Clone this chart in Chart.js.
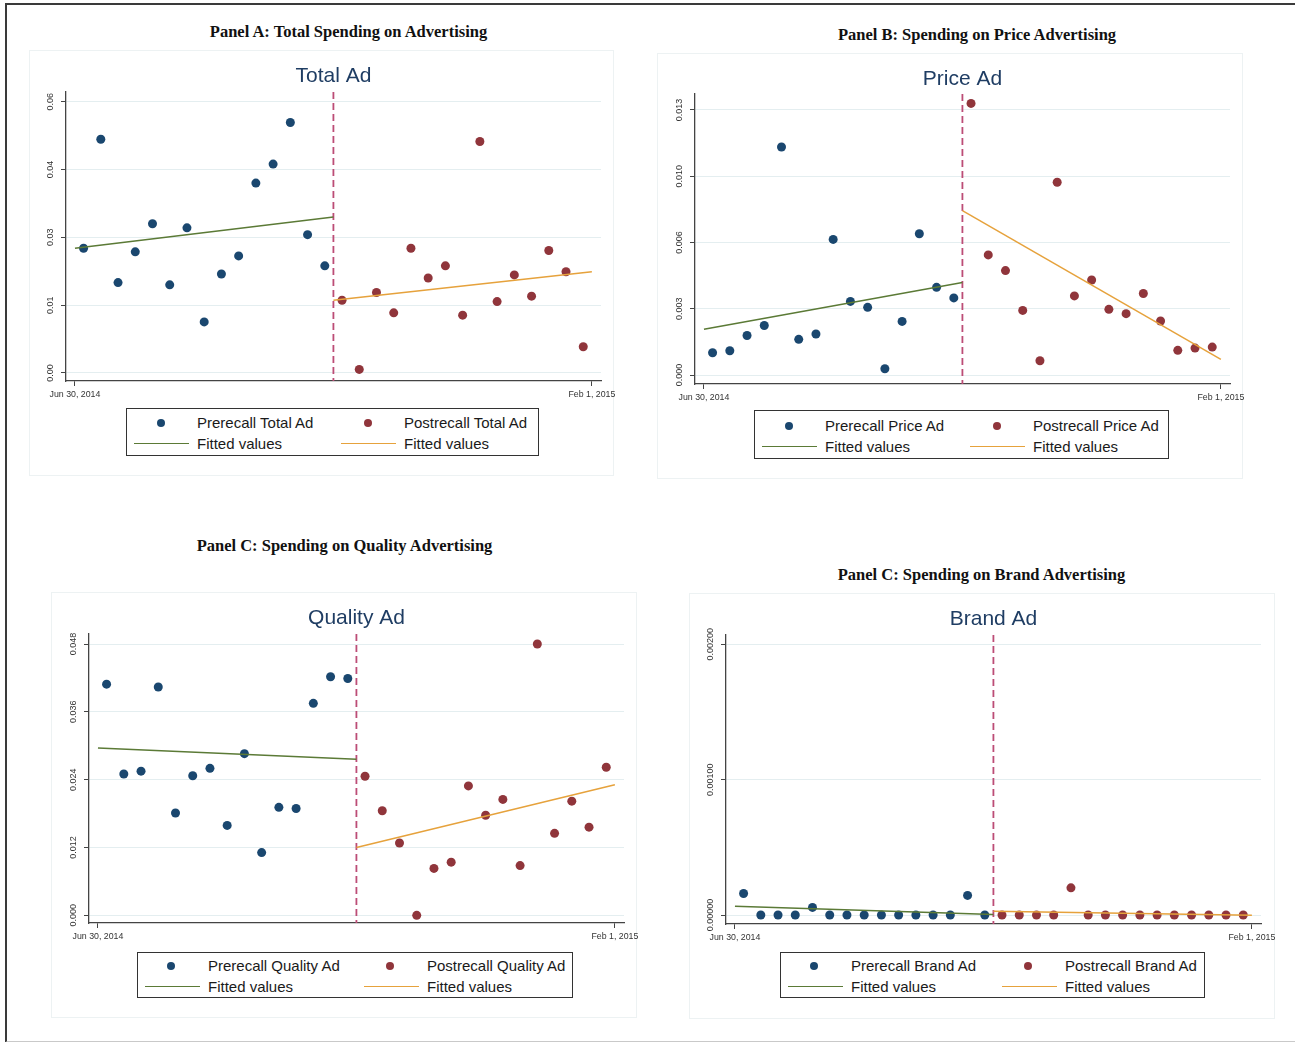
<!DOCTYPE html>
<html>
<head>
<meta charset="utf-8">
<title>Recall and advertising spending</title>
<script src="https://cdn.jsdelivr.net/npm/chart.js@4.4.1/dist/chart.umd.min.js"></script>
<style>
  html, body { margin: 0; padding: 0; background: #fff; overflow: hidden; }
  #page { position: relative; width: 1295px; height: 1042px; font-family: "Liberation Sans", Arial, sans-serif; }
  #frame { position: absolute; left: 5px; top: 3px; width: 1310px; height: 1036px;
           border-left: 2px solid #3a3a3a; border-top: 2px solid #3a3a3a; border-bottom: 2px solid #c9c9c9; }
  .ptitle { position: absolute; transform: translate(-50%, -50%); white-space: nowrap;
            font: bold 16.5px "Liberation Serif", "Times New Roman", serif; color: #111; }
  .box { position: absolute; box-sizing: border-box; border: 1px solid #edf2f3; }
  .box canvas { position: absolute; left: 0; top: 0; }
  .legend { position: absolute; box-sizing: border-box; border: 1px solid #333; background: #fff; }
  .item { position: absolute; height: 21px; line-height: 21px; white-space: nowrap; font-size: 15px; color: #1a1a1a; }
  .item .dot { position: absolute; top: 7px; width: 8px; height: 8px; border-radius: 50%; }
  .item .ln { position: absolute; top: 10px; height: 1.5px; }
  .item .txt { position: absolute; left: 70px; top: 0; }
</style>
</head>
<body>
<div id="page"><div id="frame"></div></div>
<script>
// weeks around the recall; the cutoff sits between week 15 and 16
const weeksPre = [1, 2, 3, 4, 5, 6, 7, 8, 9, 10, 11, 12, 13, 14, 15];
const weeksPost = [16, 17, 18, 19, 20, 21, 22, 23, 24, 25, 26, 27, 28, 29, 30];
const cutoffWeek = 15.5;
const xTickVals = [0.5, 30.5];
const xTickLabels = ['Jun 30, 2014', 'Feb 1, 2015'];

// Panel A: total ad
const totalPre = [0.0276, 0.0517, 0.0200, 0.0268, 0.0330, 0.0195, 0.0321, 0.0113, 0.0219, 0.0259, 0.0420, 0.0462, 0.0554, 0.0306, 0.0237];
const totalPost = [0.0161, 0.0008, 0.0178, 0.0133, 0.0276, 0.0210, 0.0237, 0.0128, 0.0512, 0.0158, 0.0217, 0.0170, 0.0271, 0.0224, 0.0058];
const totalFitPre = [0.0276, 0.0345];
const totalFitPost = [0.0161, 0.0224];
const totalTicks = [0, 0.015, 0.03, 0.045, 0.06];
const totalTickLabels = ['0.00', '0.01', '0.03', '0.04', '0.06'];

// Panel B: price ad
const pricePre = [0.00109, 0.00119, 0.00194, 0.00243, 0.01118, 0.00175, 0.00201, 0.00665, 0.00361, 0.00332, 0.00031, 0.00263, 0.00693, 0.00430, 0.00378];
const pricePost = [0.01332, 0.00589, 0.00512, 0.00317, 0.00070, 0.00945, 0.00388, 0.00466, 0.00322, 0.00301, 0.00400, 0.00265, 0.00121, 0.00132, 0.00137];
const priceFitPre = [0.00224, 0.00454];
const priceFitPost = [0.00806, 0.00077];
const priceTicks = [0, 0.00325, 0.0065, 0.00975, 0.013];
const priceTickLabels = ['0.000', '0.003', '0.006', '0.010', '0.013'];

// Panel C: quality ad
const qualityPre = [0.0409, 0.0250, 0.0255, 0.0404, 0.0181, 0.0247, 0.0260, 0.0159, 0.0286, 0.0111, 0.0191, 0.0189, 0.0375, 0.0422, 0.0419];
const qualityPost = [0.0246, 0.0185, 0.0128, 0.0000, 0.0083, 0.0094, 0.0229, 0.0177, 0.0205, 0.0088, 0.0480, 0.0145, 0.0202, 0.0156, 0.0262];
const qualityFitPre = [0.0296, 0.0276];
const qualityFitPost = [0.0120, 0.0231];
const qualityTicks = [0, 0.012, 0.024, 0.036, 0.048];
const qualityTickLabels = ['0.000', '0.012', '0.024', '0.036', '0.048'];

// Panel D: brand ad
const brandPre = [0.000159, 0, 0, 0, 0.000056, 0, 0, 0, 0, 0, 0, 0, 0, 0.000145, 0];
const brandPost = [0, 0, 0, 0, 0.000201, 0, 0, 0, 0, 0, 0, 0, 0, 0, 0];
const brandFitPre = [0.000064, 0.000003];
const brandFitPost = [0.000027, -0.000002];
const brandTicks = [0, 0.001, 0.002];
const brandTickLabels = ['0.00000', '0.00100', '0.00200'];

const NAVY = '#1a476f';
const MAROON = '#90353b';
const GREEN = '#5b7a36';
const ORANGE = '#e6a23c';

const panels = [
  { head: 'Panel A: Total Spending on Advertising', hx: 348.5, hy: 32, name: 'Total Ad',
    pre: totalPre, post: totalPost, fitPre: totalFitPre, fitPost: totalFitPost,
    ticks: totalTicks, tickLabels: totalTickLabels, yMin: -0.00177, yMax: 0.06215,
    box: [29, 50, 585, 426], inset: [36, 41, 14, 330], legend: [126, 408, 413, 48, 207, 14] },
  { head: 'Panel B: Spending on Price Advertising', hx: 977, hy: 35, name: 'Price Ad',
    pre: pricePre, post: pricePost, fitPre: priceFitPre, fitPost: priceFitPost,
    ticks: priceTicks, tickLabels: priceTickLabels, yMin: -0.00044, yMax: 0.01378,
    box: [657, 53, 586, 426], inset: [37, 40, 14, 330], legend: [754, 410, 415, 49, 208, 15] },
  { head: 'Panel C: Spending on Quality Advertising', hx: 344.5, hy: 546, name: 'Quality Ad',
    pre: qualityPre, post: qualityPost, fitPre: qualityFitPre, fitPost: qualityFitPost,
    ticks: qualityTicks, tickLabels: qualityTickLabels, yMin: -0.00136, yMax: 0.04977,
    box: [51, 592, 586, 426], inset: [37, 41, 14, 330], legend: [137, 952, 436, 46, 219, 13] },
  { head: 'Panel C: Spending on Brand Advertising', hx: 981.5, hy: 575, name: 'Brand Ad',
    pre: brandPre, post: brandPost, fitPre: brandFitPre, fitPost: brandFitPost,
    ticks: brandTicks, tickLabels: brandTickLabels, yMin: -0.0000664, yMax: 0.002069,
    box: [689, 593, 586, 426], inset: [36, 41, 15, 330], legend: [780, 952, 425, 46, 214, 13] }
];

// dashed recall line + rotated y labels (Stata style)
const panelExtras = {
  id: 'panelExtras',
  beforeDatasetsDraw(chart, args, opts) {
    const {ctx, chartArea, scales: {x}} = chart;
    const px = x.getPixelForValue(opts.cutoff);
    ctx.save();
    ctx.strokeStyle = '#bc4d76';
    ctx.lineWidth = 1.8;
    ctx.setLineDash([7, 4]);
    ctx.beginPath();
    ctx.moveTo(px, chartArea.top);
    ctx.lineTo(px, chartArea.bottom);
    ctx.stroke();
    ctx.restore();
  },
  afterDraw(chart, args, opts) {
    const {ctx, chartArea, scales: {y}} = chart;
    ctx.save();
    ctx.font = '9px "Liberation Sans", Arial, sans-serif';
    ctx.fillStyle = '#333';
    ctx.textAlign = 'center';
    ctx.textBaseline = 'middle';
    opts.tickVals.forEach((v, i) => {
      ctx.save();
      ctx.translate(chartArea.left - 15, y.getPixelForValue(v));
      ctx.rotate(-Math.PI / 2);
      ctx.fillText(opts.tickLabels[i], 0, 0);
      ctx.restore();
    });
    ctx.restore();
  }
};

const page = document.getElementById('page');

panels.forEach(p => {
  const head = document.createElement('DIV');
  head.className = 'ptitle';
  head.style.left = p.hx + 'px';
  head.style.top = p.hy + 'px';
  head.textContent = p.head;
  page.appendChild(head);

  const [bl, bt, bw, bh] = p.box;
  const [insL, insT, insR, insB] = p.inset;
  const box = document.createElement('DIV');
  box.className = 'box';
  Object.assign(box.style, {left: bl + 'px', top: bt + 'px', width: bw + 'px', height: bh + 'px'});
  const canvas = box.appendChild(document.createElement('CANVAS'));
  canvas.width = bw;
  canvas.height = bh;
  page.appendChild(box);

  const pts = (xs, ys) => xs.map((w, i) => ({x: w, y: ys[i]}));

  new Chart(canvas, {
    type: 'scatter',
    data: {
      datasets: [
        { label: 'Fitted values', data: [{x: xTickVals[0], y: p.fitPre[0]}, {x: cutoffWeek, y: p.fitPre[1]}],
          showLine: true, borderColor: GREEN, borderWidth: 1.5, pointRadius: 0, fill: false },
        { label: 'Fitted values', data: [{x: cutoffWeek, y: p.fitPost[0]}, {x: xTickVals[1], y: p.fitPost[1]}],
          showLine: true, borderColor: ORANGE, borderWidth: 1.5, pointRadius: 0, fill: false },
        { label: 'Prerecall ' + p.name, data: pts(weeksPre, p.pre),
          pointRadius: 4.5, pointBackgroundColor: NAVY, pointBorderWidth: 0 },
        { label: 'Postrecall ' + p.name, data: pts(weeksPost, p.post),
          pointRadius: 4.5, pointBackgroundColor: MAROON, pointBorderWidth: 0 }
      ]
    },
    options: {
      responsive: false,
      animation: false,
      events: [],
      layout: { padding: {left: 0, right: insR, top: 0, bottom: 0} },
      scales: {
        x: {
          type: 'linear', min: -0.02, max: 31.03,
          afterBuildTicks: s => { s.ticks = xTickVals.map(v => ({value: v})); },
          afterFit: s => { s.height = bh - insB; s.paddingLeft = 0; s.paddingRight = 0; },
          ticks: { callback: (v, i) => xTickLabels[i], autoSkip: false, maxRotation: 0,
                   font: {size: 8.8, family: '"Liberation Sans", Arial, sans-serif'}, color: '#333', padding: 3 },
          grid: { drawOnChartArea: false, tickColor: '#444', tickLength: 5 },
          border: { color: '#444', width: 1.3 }
        },
        y: {
          min: p.yMin, max: p.yMax,
          afterBuildTicks: s => { s.ticks = p.ticks.map(v => ({value: v})); },
          afterFit: s => { s.width = insL; },
          ticks: { display: false },
          grid: { color: '#e4eef0', tickColor: '#444', tickLength: 5, lineWidth: 1 },
          border: { color: '#444', width: 1.3 }
        }
      },
      plugins: {
        legend: { display: false },
        tooltip: { enabled: false },
        title: {
          display: true, text: p.name, fullSize: false, color: '#1f3d63',
          font: {size: 21, weight: 'normal', family: '"Liberation Sans", Arial, sans-serif'},
          padding: {top: 13, bottom: insT - 38.2}
        },
        panelExtras: { cutoff: cutoffWeek, tickVals: p.ticks, tickLabels: p.tickLabels }
      }
    },
    plugins: [panelExtras]
  });

  // Stata-like 2x2 legend
  const [ll, lt, lw, lh, col2, row1] = p.legend;
  const leg = document.createElement('DIV');
  leg.className = 'legend';
  Object.assign(leg.style, {left: ll + 'px', top: lt + 'px', width: lw + 'px', height: lh + 'px'});
  const items = [
    {col: 0, row: 0, dot: NAVY, text: 'Prerecall ' + p.name},
    {col: 1, row: 0, dot: MAROON, text: 'Postrecall ' + p.name},
    {col: 0, row: 1, line: GREEN, text: 'Fitted values'},
    {col: 1, row: 1, line: ORANGE, text: 'Fitted values'}
  ];
  items.forEach(it => {
    const d = document.createElement('DIV');
    d.className = 'item';
    d.style.left = (it.col * col2) + 'px';
    d.style.top = (row1 - 11.5 + it.row * 21) + 'px';
    let sym;
    if (it.dot) {
      sym = `<span class="dot" style="left:${row1 > 13 ? 30 : 29}px;background:${it.dot}"></span>`;
    } else {
      sym = `<span class="ln" style="left:7px;width:55px;background:${it.line}"></span>`;
    }
    d.innerHTML = sym + `<span class="txt">${it.text}</span>`;
    leg.appendChild(d);
  });
  page.appendChild(leg);
});
</script>
</body>
</html>
